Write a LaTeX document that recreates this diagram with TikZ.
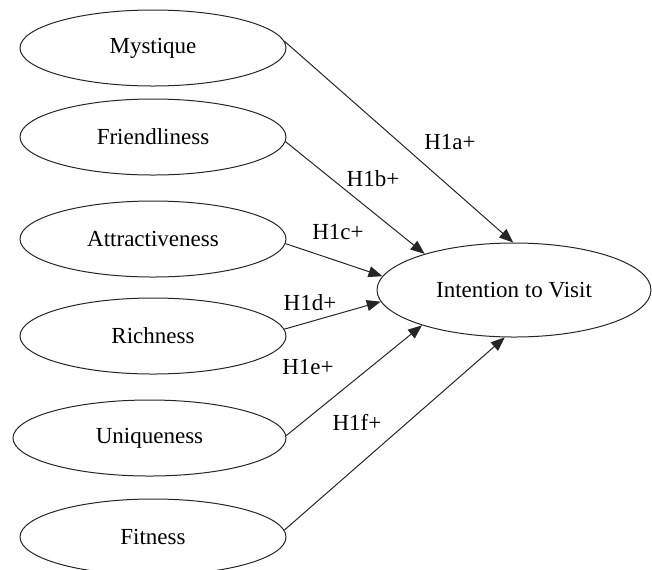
\documentclass[tikz,border=0pt]{standalone}
\usepackage{fontspec}
\setmainfont{Liberation Serif}
\usetikzlibrary{shapes.geometric,arrows.meta}
\tikzset{
  construct/.style={ellipse,draw=black!85,line width=0.5pt,inner sep=0pt,minimum width=133pt,minimum height=38pt,font=\fontsize{11.5}{14}\selectfont},
  target/.style={ellipse,draw=black!85,line width=0.5pt,inner sep=0pt,minimum width=137pt,minimum height=47pt,font=\fontsize{11.5}{14}\selectfont},
  path/.style={draw=black!85,line width=0.5pt,-{Triangle[length=7pt,width=5.5pt]}},
  hyp/.style={font=\fontsize{11.5}{14}\selectfont,inner sep=0pt}
}
\begin{document}
\begin{tikzpicture}[x=0.5pt,y=-0.5pt]
\useasboundingbox (0,0) rectangle (652,569);
\begin{scope}
\clip (0,0) rectangle (652,569);
\node[construct] (mys) at (153,48) {Mystique};
\node[construct] (fri) at (153,137) {Friendliness};
\node[construct] (att) at (153,239) {Attractiveness};
\node[construct] (ric) at (153,336) {Richness};
\node[construct,minimum width=136.5pt] (uni) at (149.5,438) {Uniqueness};
\node[construct] (fit) at (153,537) {Fitness};
\node[target] (int) at (514,290) {Intention to Visit};

\draw[path] (mys.3) -- (int.91);
\draw[path] (fri.-2) -- (int.158);
\draw[path] (att.-2) -- (int.174);
\draw[path] (ric.3) -- (int.185);
\draw[path] (uni.1) -- (int.201);
\draw[path] (fit.3) -- (int.259);

\node[hyp] (la) at (450,142) {H1a+};
\node[hyp] (lb) at (373,179) {H1b+};
\node[hyp] (lc) at (338,232) {H1c+};
\node[hyp] (ld) at (310,303) {H1d+};
\node[hyp] (le) at (308,367) {H1e+};
\node[hyp] (lf) at (357,422) {H1f+};
\end{scope}
\end{tikzpicture}
\end{document}
